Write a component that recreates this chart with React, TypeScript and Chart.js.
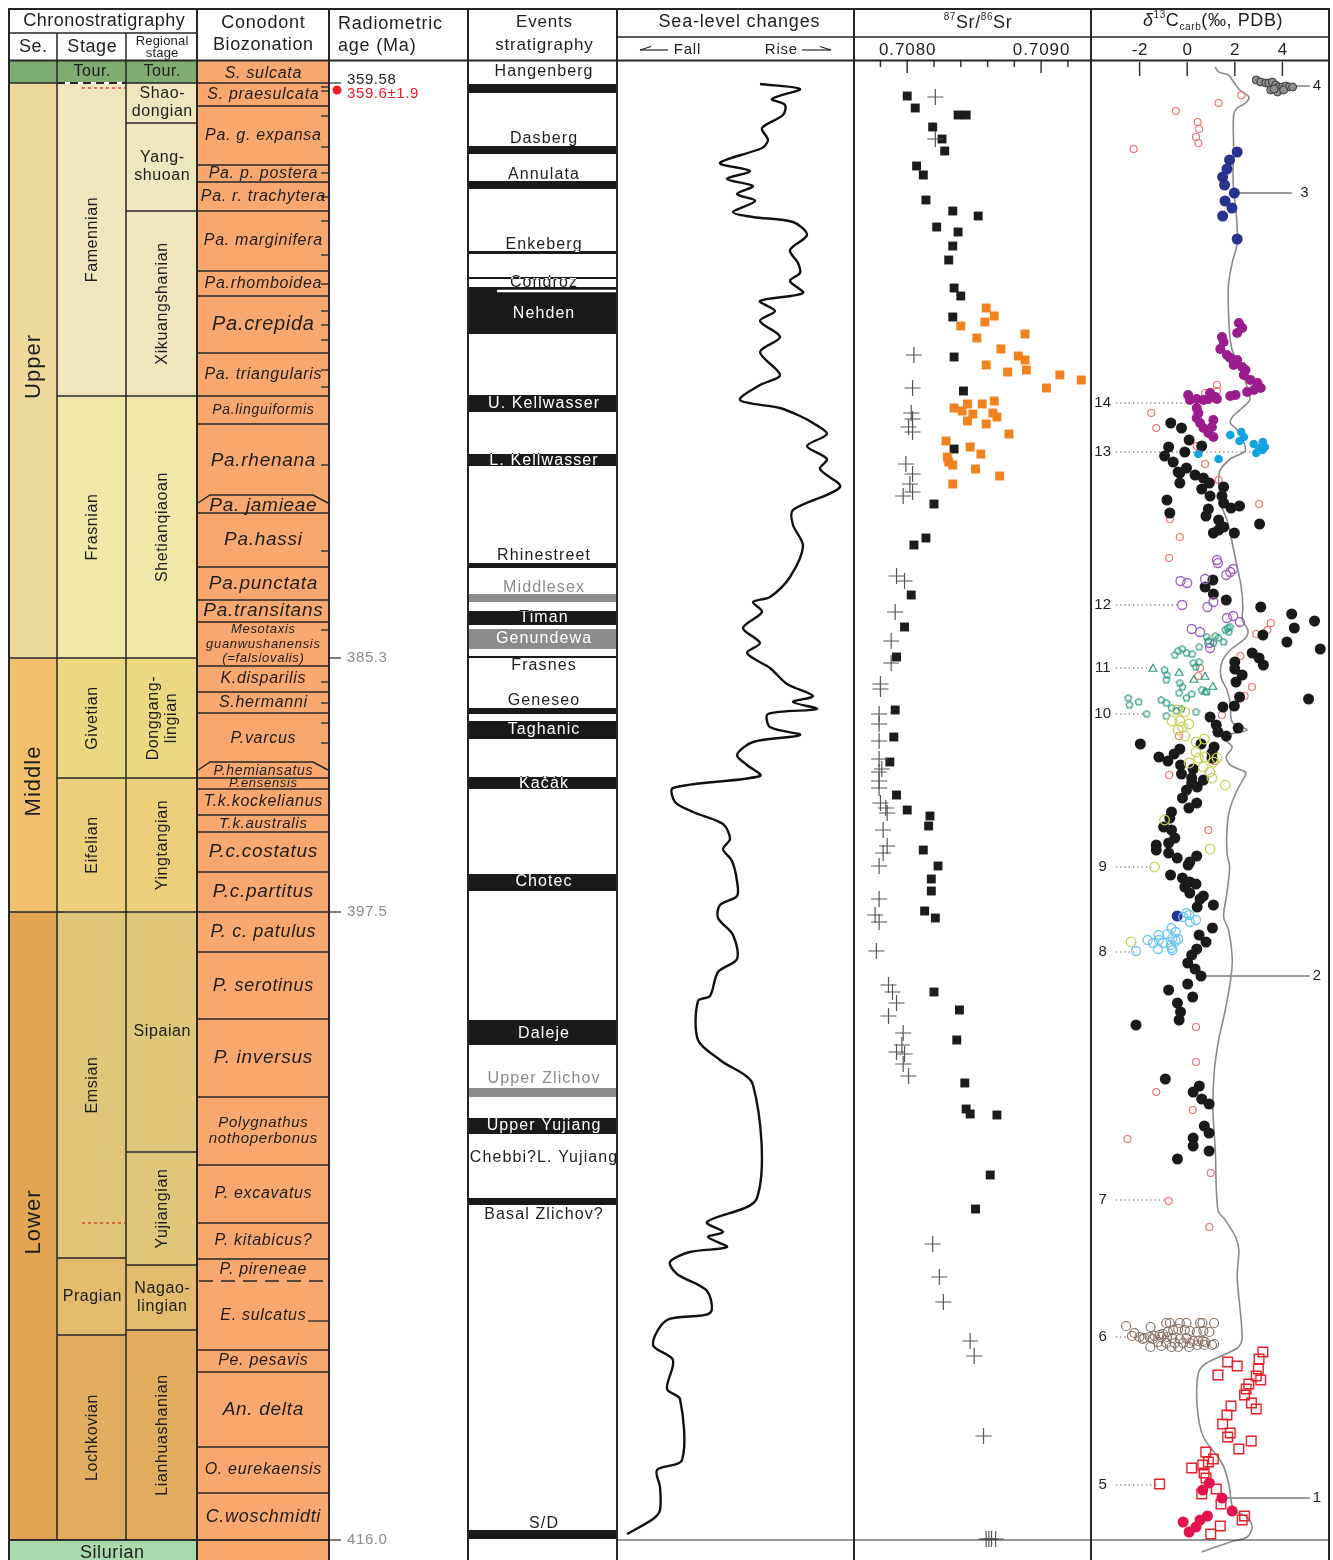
import React, { useEffect, useRef } from 'react';
import { Chart, registerables } from 'chart.js';

Chart.register(...registerables);

type Pair = [number, number];

// ====================== DATA ======================
// Vertical axis of every column: stratigraphic level (arbitrary units, increasing downwards).

// --- Chronostratigraphy ---
const seriesNames = ['', 'Upper', 'Middle', 'Lower'];
const seriesBounds = [61, 83, 658, 912, 1540];
const stageNames = ['Tour.', 'Famennian', 'Frasnian', 'Givetian', 'Eifelian', 'Emsian', 'Pragian', 'Lochkovian'];
const stageBounds = [61, 83, 396, 658, 778, 912, 1258, 1335, 1540];
const regionalNames = ['Tour.', 'Shao-\ndongian', 'Yang-\nshuoan', 'Xikuangshanian', 'Shetianqiaoan', 'Donggang-\nlingian', 'Yingtangian', 'Sipaian', 'Yujiangian', 'Nagao-\nlingian', 'Lianhuashanian'];
const regionalBounds = [61, 83, 123, 211, 396, 658, 778, 912, 1152, 1265, 1330, 1540];
const silurianName = 'Silurian';
const silurianTop = 1540;
const stageDashedLevels = [83];
const redDottedLevels = [88, 1223];

// --- Conodont biozonation ---
const zoneNames = ['S. sulcata', 'S. praesulcata', 'Pa. g. expansa', 'Pa. p. postera', 'Pa. r. trachytera', 'Pa. marginifera', 'Pa.rhomboidea', 'Pa.crepida', 'Pa. triangularis', 'Pa.linguiformis', 'Pa.rhenana', 'Pa. jamieae', 'Pa.hassi', 'Pa.punctata', 'Pa.transitans', 'Mesotaxis\nguanwushanensis\n(=falsiovalis)', 'K.disparilis', 'S.hermanni', 'P.varcus', 'P.hemiansatus', 'P.ensensis', 'T.k.kockelianus', 'T.k.australis', 'P.c.costatus', 'P.c.partitus', 'P. c. patulus', 'P. serotinus', 'P. inversus', 'Polygnathus\nnothoperbonus', 'P. excavatus', 'P. kitabicus?', 'P. pireneae', 'E. sulcatus', 'Pe. pesavis', 'An. delta', 'O. eurekaensis', 'C.woschmidti'];
const zoneBounds = [61, 83, 106, 165, 182, 211, 271, 296, 353, 396, 424, 498, 513, 567, 600, 622, 666, 692, 713, 765, 778, 789, 815, 832, 872, 912, 952, 1019, 1097, 1165, 1223, 1259, 1281, 1350, 1372, 1447, 1493, 1540];
const subzoneTickLevels = [87, 91, 116, 147, 173, 197, 221, 255, 284, 311, 325, 340, 370, 387, 465, 551, 630, 682, 703, 723, 743];
const subzoneLongTickLevels = [1321];

// --- Radiometric ages ---
const ageLabels = ['359.58', '385.3', '397.5', '416.0'];
const ageLevels = [83, 658, 912, 1540];
const datedAgeLabel = '359.6±1.9';
const datedAgeLevel = 90;

// --- Events stratigraphy ---
const eventNames = ['Hangenberg', 'Dasberg', 'Annulata', 'Enkeberg', 'Condroz', 'Nehden', 'U. Kellwasser', 'L. Kellwasser', 'Rhinestreet', 'Middlesex', 'Timan', 'Genundewa', 'Frasnes', 'Geneseo', 'Taghanic', 'Kačák', 'Chotec', 'Daleje', 'Upper Zlichov', 'Upper Yujiang', 'Chebbi?L. Yujiang', 'Basal Zlichov?', 'S/D'];
const eventLabelLevels = [72, 139, 175, 245, 283, 314, 404, 461, 556, 588, 618, 639, 666, 701, 730, 784, 882, 1034, 1079, 1126, 1158, 1215, 1524];
const eventBandTops = [84, 146, 181, 251, 277, 287, 395, 454, 563, 594, 611, 629, 656, 708, 721, 777, 874, 1020, 1088, 1118, null, 1198, 1530];
const eventBandBottoms = [93, 154, 189, 254, 279, 334, 412, 466, 568, 602, 625, 649, 658, 714, 739, 789, 891, 1045, 1097, 1134, null, 1205, 1539];
const eventMinor = [false, false, false, false, false, false, false, false, false, true, false, true, false, false, false, false, false, false, true, false, false, false, false];
const eventWhiteLines = [291];

// --- Sea-level curve: [relative sea level (arbitrary, fall -> rise), level] ---
const seaLevelCurve: Pair[] = [[142,84],[182,89],[154,99],[167,105],[165,115],[144,128],[150,140],[144,148],[102,163],[132,171],[109,179],[135,186],[119,194],[137,201],[115,212],[135,217],[175,222],[189,235],[172,250],[180,263],[182,273],[172,281],[185,293],[142,301],[157,311],[142,321],[162,337],[142,352],[162,375],[142,385],[122,400],[162,408],[182,416],[195,423],[209,434],[189,446],[209,459],[202,469],[222,487],[175,510],[175,525],[185,546],[172,577],[152,597],[135,602],[144,612],[125,628],[142,643],[129,653],[152,668],[169,684],[195,696],[175,702],[199,709],[150,714],[152,727],[182,735],[135,742],[119,755],[129,765],[142,776],[55,788],[57,802],[75,812],[105,824],[112,839],[105,849],[114,861],[119,881],[119,896],[102,905],[100,918],[115,935],[119,959],[100,972],[92,996],[80,1001],[80,1040],[102,1060],[135,1085],[139,1198],[89,1222],[105,1232],[90,1237],[109,1247],[72,1252],[52,1262],[59,1274],[89,1291],[92,1313],[49,1320],[35,1345],[55,1360],[49,1389],[62,1399],[64,1460],[39,1470],[42,1487],[42,1510],[35,1519],[9,1534]];

// --- 87Sr/86Sr: [ratio, level] ---
const srTickValues = [0.7078, 0.708, 0.7082, 0.7084, 0.7086, 0.7088, 0.709, 0.7092];
const srTickLabels = ['0.7080', '0.7090'];
const srLabelValues = [0.708, 0.709];
const srBlack: Pair[] = [[0.70800,96],[0.70806,108],[0.70838,115],[0.70844,115],[0.70819,127],[0.70826,139],[0.70828,151],[0.70807,166],[0.70812,175],[0.70814,200],[0.70834,211],[0.70853,216],[0.70822,227],[0.70838,232],[0.70834,246],[0.70831,260],[0.70835,288],[0.70840,296],[0.70834,317],[0.70835,357],[0.70842,391],[0.70835,449],[0.70820,504],[0.70814,538],[0.70805,545],[0.70803,595],[0.70798,627],[0.70792,657],[0.70791,710],[0.70790,737],[0.70787,762],[0.70792,795],[0.70800,810],[0.70817,816],[0.70816,826],[0.70812,850],[0.70823,866],[0.70818,879],[0.70818,891],[0.70813,911],[0.70821,918],[0.70820,992],[0.70839,1010],[0.70837,1040],[0.70843,1083],[0.70844,1109],[0.70847,1114],[0.70867,1115],[0.70862,1175],[0.70851,1209]];
const srOrange: Pair[] = [[0.70859,308],[0.70865,316],[0.70858,322],[0.70840,326],[0.70852,338],[0.70888,334],[0.70870,349],[0.70883,356],[0.70888,360],[0.70859,365],[0.70875,372],[0.70889,370],[0.70914,375],[0.70930,380],[0.70904,388],[0.70835,408],[0.70845,404],[0.70841,411],[0.70849,414],[0.70856,404],[0.70865,401],[0.70864,413],[0.70867,417],[0.70845,421],[0.70859,424],[0.70876,434],[0.70829,441],[0.70847,447],[0.70855,454],[0.70830,457],[0.70831,462],[0.70834,465],[0.70851,469],[0.70869,476],[0.70834,484]];
const srCross: Pair[] = [[0.70821,97],[0.70821,139],[0.70805,355],[0.70804,388],[0.70803,413],[0.70804,419],[0.70801,427],[0.70804,432],[0.70799,464],[0.70804,474],[0.70802,484],[0.70804,492],[0.70797,496],[0.70792,576],[0.70798,581],[0.70791,612],[0.70788,641],[0.70788,663],[0.70780,684],[0.70780,689],[0.70779,714],[0.70779,724],[0.70779,741],[0.70779,759],[0.70781,769],[0.70779,772],[0.70779,781],[0.70779,788],[0.70780,803],[0.70784,808],[0.70785,813],[0.70782,830],[0.70785,846],[0.70782,853],[0.70779,866],[0.70779,899],[0.70776,915],[0.70779,922],[0.70777,951],[0.70786,985],[0.70789,992],[0.70792,1003],[0.70786,1016],[0.70797,1033],[0.70796,1045],[0.70792,1052],[0.70798,1054],[0.70797,1064],[0.70801,1076],[0.70819,1244],[0.70824,1277],[0.70827,1302],[0.70847,1341],[0.70850,1356],[0.70857,1436],[0.70859,1539],[0.70861,1539],[0.70863,1539],[0.70866,1539]];

// --- δ13Ccarb (‰ PDB): [value, level] ---
const c13TickValues = [-2, 0, 2, 4];
const c13Grey: Pair[] = [[2.90,80],[3.09,82],[3.30,83],[3.43,83],[3.58,82],[3.72,85],[3.85,87],[4.01,87],[4.15,86],[4.29,87],[4.43,87],[3.80,92],[3.51,90],[3.65,89],[4.05,90]];
const c13PinkOpen: Pair[] = [[2.28,95],[1.32,103],[-0.48,111],[0.44,122],[0.50,129],[0.37,137],[0.47,143],[-2.25,149],[1.25,385],[1.25,391],[0.75,393],[-1.51,413],[-1.30,428],[0.40,446],[0.75,464],[1.32,480],[3.02,504],[-0.73,519],[-0.31,537],[-0.76,558],[2.90,634],[3.37,630],[3.51,623],[2.24,656],[0.54,668],[0.47,676],[2.72,687],[2.41,696],[1.46,715],[-0.35,736],[-0.76,775],[1.15,761],[0.89,830],[0.37,1027],[0.37,1062],[-1.30,1092],[0.23,1110],[-2.51,1139],[0.99,1173],[-0.78,1201],[0.93,1227]];
const c13Navy: Pair[] = [[2.10,152],[1.78,160],[1.67,169],[1.49,177],[1.57,185],[1.98,193],[1.59,201],[1.88,208],[1.49,216],[2.10,239],[-0.42,916]];
const c13Purple: Pair[] = [[2.17,323],[2.31,328],[2.10,333],[1.46,337],[1.53,342],[1.39,349],[1.67,355],[1.81,358],[2.10,360],[1.95,365],[2.31,367],[2.45,370],[2.38,375],[2.66,380],[2.95,383],[3.09,388],[2.80,390],[2.52,392],[2.03,395],[1.81,396],[0.96,393],[1.18,397],[1.25,399],[0.04,395],[0.11,400],[0.40,399],[0.68,400],[0.89,399],[0.40,408],[0.47,413],[0.40,418],[0.54,423],[0.68,428],[1.10,420],[1.04,427],[0.89,433],[1.10,437]];
const c13Black: Pair[] = [[-0.69,423],[-0.24,428],[0.08,440],[-0.78,447],[0.61,446],[-0.10,452],[-0.95,456],[-0.59,462],[-0.38,472],[-0.03,468],[0.33,475],[0.68,478],[-0.31,473],[-0.31,483],[0.93,483],[0.61,489],[1.53,487],[0.96,496],[1.46,496],[-0.85,500],[1.53,503],[1.84,508],[2.20,506],[0.89,509],[-0.73,513],[0.79,516],[1.32,520],[3.04,524],[1.53,527],[1.32,530],[1.10,533],[1.98,533],[1.08,580],[0.75,587],[1.10,594],[1.64,600],[3.09,607],[4.39,614],[5.35,621],[4.50,628],[3.18,635],[4.19,642],[5.59,649],[2.73,653],[3.02,658],[3.20,665],[2.00,662],[2.00,669],[2.31,675],[2.05,682],[2.20,697],[1.98,706],[1.50,707],[5.10,699],[0.96,717],[1.22,725],[2.14,728],[1.29,732],[1.64,736],[-1.97,744],[0.58,744],[1.13,747],[-0.31,749],[1.04,753],[-0.55,754],[-1.19,757],[-0.81,761],[1.04,758],[-0.28,765],[0.25,769],[-0.24,774],[0.19,778],[0.68,780],[0.19,783],[0.42,787],[-0.03,790],[-0.20,798],[0.40,803],[0.07,808],[-0.66,812],[-0.73,818],[-0.99,827],[-0.66,830],[-0.52,838],[-0.78,843],[-1.30,845],[-1.30,850],[-0.78,853],[-0.42,858],[0.40,856],[0.11,862],[0.04,865],[-0.70,875],[-0.20,878],[0.11,882],[0.37,884],[-0.10,887],[0.11,893],[0.68,896],[0.54,899],[1.10,905],[0.42,907],[1.06,928],[0.50,935],[0.79,942],[0.40,949],[0.19,955],[0.02,963],[0.33,969],[0.58,976],[0.02,984],[-0.78,990],[0.23,997],[-0.41,1003],[-0.28,1012],[-0.34,1020],[-2.15,1025],[-0.92,1079],[0.51,1086],[0.25,1092],[0.61,1099],[0.92,1104],[0.72,1126],[0.92,1133],[0.25,1138],[0.25,1146],[0.92,1151],[-0.41,1159]];
const c13Cyan: Pair[] = [[1.81,435],[2.27,432],[2.38,437],[2.20,441],[2.80,444],[3.18,442],[3.26,447],[3.02,448],[2.90,453],[3.16,450],[0.47,454],[1.32,459]];
const c13Violet: Pair[] = [[1.25,560],[1.29,563],[-0.28,581],[0.00,583],[0.75,579],[1.64,575],[1.81,572],[1.93,569],[-0.21,605],[0.85,607],[1.10,602],[1.67,618],[1.93,616],[2.21,622],[0.19,629],[0.54,632],[0.93,643],[0.96,648]];
const c13TealPent: Pair[] = [[1.60,630],[1.70,628],[1.80,627],[1.75,632],[0.82,637],[1.18,636],[1.32,638],[1.53,642],[0.89,641],[1.10,643],[-0.52,655],[-0.38,651],[-0.21,649],[-0.03,653],[0.21,654],[0.50,647],[-0.95,670],[-0.85,675],[-0.88,680],[0.25,663],[0.50,662],[0.36,667],[-0.31,683],[-0.20,687],[0.61,690],[0.82,692],[-0.34,693],[-0.03,698],[0.19,694],[-1.09,700],[-0.88,703],[-0.66,708],[-0.45,711],[-2.48,698],[-2.43,705],[-2.04,702],[-1.70,714],[-0.88,716],[0.37,712],[-0.24,709]];
const c13TealTri: Pair[] = [[-1.44,669],[-0.34,673],[0.28,680],[0.75,677],[1.08,687],[0.75,692]];
const c13YellowGreen: Pair[] = [[-0.42,710],[-0.10,712],[-0.64,721],[-0.31,721],[0.07,724],[-0.38,730],[-0.10,736],[-0.20,727],[0.37,742],[0.72,739],[0.37,752],[0.75,757],[0.47,758],[1.25,758],[1.10,762],[0.08,763],[0.68,767],[0.96,772],[1.04,778],[1.60,785],[-0.95,820],[0.96,849],[-1.37,867],[-2.36,942]];
const c13LightBlue: Pair[] = [[-0.03,913],[0.08,915],[-0.17,917],[0.11,922],[0.37,920],[-0.66,928],[-0.48,932],[-0.83,934],[-1.20,935],[-0.38,939],[-0.62,938],[-1.19,940],[-1.66,940],[-1.44,943],[-1.02,943],[-0.69,945],[-0.48,941],[-0.66,948],[-1.23,949],[-0.62,950],[-2.15,951]];
const c13Brown: Pair[] = [[-2.57,1326],[-1.54,1327],[-0.88,1323],[-0.73,1323],[-0.31,1323],[-0.03,1323],[0.54,1323],[0.64,1323],[1.13,1323],[-2.22,1333],[-2.32,1336],[-2.01,1337],[-1.80,1338],[-1.58,1337],[-1.37,1336],[-1.16,1335],[-1.02,1334],[-0.81,1332],[-0.59,1330],[-0.38,1329],[-0.10,1330],[0.11,1331],[0.40,1332],[0.68,1331],[0.93,1332],[-1.87,1339],[-1.44,1339],[-1.09,1337],[-0.85,1337],[-0.62,1338],[-0.31,1339],[-0.03,1338],[0.25,1341],[0.47,1341],[0.75,1342],[-1.55,1347],[-1.09,1346],[-0.66,1347],[-0.38,1347],[0.08,1347],[0.42,1345],[0.71,1345],[1.13,1344],[1.04,1345],[0.65,1341],[-1.23,1342],[-0.88,1343],[-0.52,1343],[-0.17,1343],[0.11,1343]];
const c13RedSquare: Pair[] = [[3.18,1352],[3.02,1359],[1.70,1362],[2.10,1366],[2.99,1369],[1.29,1375],[2.90,1376],[3.09,1380],[2.59,1384],[2.48,1389],[2.41,1395],[2.70,1403],[2.90,1409],[1.84,1406],[1.67,1415],[1.49,1424],[1.81,1433],[1.70,1437],[2.69,1441],[2.17,1449],[0.78,1452],[1.10,1459],[0.89,1462],[0.65,1465],[0.19,1468],[0.71,1473],[0.79,1478],[-1.16,1484],[1.22,1489],[0.61,1494],[1.42,1504],[2.41,1516],[2.31,1520],[1.39,1526],[0.99,1534]];
const c13Crimson: Pair[] = [[0.93,1483],[0.65,1490],[1.46,1498],[1.89,1511],[0.85,1516],[0.54,1520],[-0.17,1522],[0.37,1527],[0.08,1532]];
const c13Curve: Pair[] = [[1.18,67],[1.32,72],[1.74,75],[1.95,82],[2.21,90],[2.59,97],[2.45,103],[2.10,108],[1.95,115],[1.95,150],[1.93,183],[2.07,217],[2.10,243],[1.89,263],[1.74,283],[1.72,300],[1.78,333],[1.89,350],[2.10,362],[2.38,377],[2.59,393],[2.63,400],[2.31,408],[1.93,416],[1.81,423],[2.10,430],[2.45,450],[1.81,459],[1.39,470],[1.32,480],[1.36,490],[1.46,507],[1.67,520],[1.84,537],[2.10,567],[2.27,587],[2.34,608],[2.31,620],[2.55,630],[2.45,638],[1.81,650],[1.46,662],[1.42,677],[1.67,690],[1.81,703],[1.89,722],[2.52,730],[1.67,735],[1.60,740],[1.89,747],[1.64,757],[1.81,765],[2.45,772],[2.45,775],[2.10,790],[1.78,810],[1.67,830],[1.67,853],[1.78,867],[1.67,893],[1.53,917],[1.74,930],[1.89,957],[1.84,977],[1.60,1010],[1.32,1040],[1.13,1073],[1.08,1110],[1.18,1150],[1.29,1210],[1.60,1220],[2.03,1237],[2.17,1250],[2.10,1277],[2.31,1338],[2.10,1348],[0.82,1363],[0.47,1373],[0.42,1407],[0.68,1437],[1.46,1463],[1.74,1483],[1.95,1510],[2.52,1517],[2.73,1527],[2.52,1537],[1.81,1542],[0.61,1552]];

// δ13C sample-level markers
const c13LeftLabels = ['14', '13', '12', '11', '10', '9', '8', '7', '6', '5'];
const c13LeftLevels = [403, 452, 605, 668, 714, 867, 952, 1200, 1337, 1485];
const c13LeftEnds = [-0.10, 2.80, -0.31, -1.50, -1.80, -1.50, -2.22, -0.95, -2.52, -1.28];
const c13RightLabels = ['4', '3', '2', '1'];
const c13RightLevels = [86, 193, 976, 1498];
const c13RightStarts = [4.50, 2.07, 0.58, 1.46];
const c13RightEnds = [5.15, 4.40, 5.15, 5.15];
const c13RightLabelAt = [5.45, 4.93, 5.45, 5.45];

// ====================== STYLE / LAYOUT ======================
const FONT = '"Liberation Sans", Arial, Helvetica, sans-serif';
const CANVAS_H = 1552;
const PAGE = 8;
const LINE = '#262626';
const seriesColors = ['#7eac71', '#eed99c', '#f1c06c', '#e1a553'];
const stageColors = ['#7eac71', '#efe6be', '#efe8a8', '#ecd880', '#ecce7b', '#e0c678', '#e2bb6d', '#e1ae60'];
const regionalColors = ['#7eac71', '#efe6be', '#efe6be', '#efe6be', '#efe8a8', '#ecd880', '#ecce7b', '#e0c678', '#e0c678', '#e2bb6d', '#e1ae60'];
const CONODONT_FILL = '#f8a86e';
const SILURIAN_FILL = '#a9dbae';
const zoneFontPx = [16,16,16,16,16,16,16,20,16,14,19,19,19,19,19,13,16,16,16,14,13,16,15,19,19,18,18,19,15,16,16,16,16,16,19,16,18];
const trapezoidZones = new Set(['Pa. jamieae', 'P.hemiansatus']);
const dashedTopZones = new Set(['E. sulcatus']);
const stageHorizontal = new Set(['Tour.', 'Pragian']);
const regionalHorizontal = new Set(['Tour.', 'Shao-\ndongian', 'Yang-\nshuoan', 'Sipaian', 'Nagao-\nlingian']);

type TxtOpt = { size?: number; color?: string; align?: CanvasTextAlign; italic?: boolean; rotate?: boolean; spacing?: number; lh?: number };
function txt(ctx: CanvasRenderingContext2D, s: string, x: number, y: number, o: TxtOpt = {}) {
  const size = o.size ?? 16;
  const lines = s.split('\n');
  const lh = o.lh ?? size * 1.1;
  ctx.save();
  ctx.font = `${o.italic ? 'italic ' : ''}${size}px ${FONT}`;
  ctx.fillStyle = o.color ?? '#1e1e1e';
  ctx.textAlign = o.align ?? 'center';
  ctx.textBaseline = 'middle';
  (ctx as any).letterSpacing = `${o.spacing ?? 0}px`;
  ctx.translate(x + (o.align === 'left' || o.align === 'right' ? 0 : (o.spacing ?? 0) / 2), y);
  if (o.rotate) ctx.rotate(-Math.PI / 2);
  lines.forEach((ln, i) => ctx.fillText(ln, 0, (i - (lines.length - 1) / 2) * lh));
  ctx.restore();
}
function line(ctx: CanvasRenderingContext2D, x1: number, y1: number, x2: number, y2: number, w = 1.5, color = LINE, dash: number[] = []) {
  ctx.save();
  ctx.strokeStyle = color;
  ctx.lineWidth = w;
  ctx.setLineDash(dash);
  ctx.beginPath();
  ctx.moveTo(x1, y1);
  ctx.lineTo(x2, y2);
  ctx.stroke();
  ctx.restore();
}
type Part = { t: string; s?: 'sup' | 'sub'; italic?: boolean };
function rich(ctx: CanvasRenderingContext2D, parts: Part[], cx: number, cy: number, size: number) {
  ctx.save();
  ctx.textBaseline = 'middle';
  ctx.textAlign = 'left';
  ctx.fillStyle = '#1e1e1e';
  (ctx as any).letterSpacing = '0.6px';
  const fontFor = (p: Part) => `${p.italic ? 'italic ' : ''}${p.s ? Math.round(size * 0.58) : size}px ${FONT}`;
  const widths = parts.map((p) => { ctx.font = fontFor(p); return ctx.measureText(p.t).width; });
  let x = cx - widths.reduce((a, b) => a + b, 0) / 2;
  parts.forEach((p, i) => {
    ctx.font = fontFor(p);
    const dy = p.s === 'sup' ? -size * 0.33 : p.s === 'sub' ? size * 0.33 : 0;
    ctx.fillText(p.t, x, cy + dy);
    x += widths[i];
  });
  ctx.restore();
}

const pts = (a: Pair[]) => a.map(([x, y]) => ({ x, y }));

function baseOptions(xmin: number, xmax: number): any {
  return {
    animation: false,
    responsive: false,
    maintainAspectRatio: false,
    events: [],
    layout: { autoPadding: false, padding: { top: 52, bottom: 0, left: 0, right: 0 } },
    plugins: { legend: { display: false }, tooltip: { enabled: false } },
    scales: {
      x: { type: 'linear', display: false, min: xmin, max: xmax },
      y: { type: 'linear', display: false, min: 60, max: 1560, reverse: true },
    },
  };
}

// ---------- left block: chronostratigraphy, conodonts, ages, events ----------
function drawStrat(chart: any) {
  const ctx: CanvasRenderingContext2D = chart.ctx;
  const ys = chart.scales.y;
  const Y = (v: number) => ys.getPixelForValue(v);
  const X = (p: number) => p - 8;
  const P = (p: number) => p - PAGE;

  const fillCol = (bounds: number[], colors: string[], x1: number, x2: number) => {
    bounds.slice(0, -1).forEach((b, i) => {
      ctx.fillStyle = colors[i];
      ctx.fillRect(X(x1), Y(b), X(x2) - X(x1), Y(bounds[i + 1]) - Y(b));
    });
  };
  fillCol(seriesBounds, seriesColors, 9, 57);
  fillCol(stageBounds, stageColors, 57, 126);
  fillCol(regionalBounds, regionalColors, 126, 197);
  ctx.fillStyle = CONODONT_FILL;
  ctx.fillRect(X(197), Y(60), X(329) - X(197), Y(1560) - Y(60));
  ctx.fillStyle = SILURIAN_FILL;
  ctx.fillRect(X(9), Y(silurianTop), X(197) - X(9), Y(1560) - Y(silurianTop));

  // chronostratigraphic boundaries
  seriesBounds.slice(1).forEach((b) => line(ctx, X(9), Y(b), X(57), Y(b)));
  stageBounds.slice(1).forEach((b) => {
    if (stageDashedLevels.includes(b)) {
      line(ctx, X(57), Y(b), X(126), Y(b), 2, '#fff');
      line(ctx, X(57), Y(b), X(126), Y(b), 2, LINE, [8, 5]);
    } else line(ctx, X(57), Y(b), X(126), Y(b));
  });
  regionalBounds.slice(1).forEach((b) => line(ctx, X(126), Y(b), X(197), Y(b)));
  redDottedLevels.forEach((l) => line(ctx, X(82), Y(l), X(125), Y(l), 1.3, '#e8312f', [3, 3]));

  // conodont zone boundaries
  zoneBounds.slice(1).forEach((b, k) => {
    const name = zoneNames[k + 1];
    if (name && trapezoidZones.has(name)) {
      ctx.save();
      ctx.strokeStyle = LINE; ctx.lineWidth = 1.5;
      ctx.beginPath();
      ctx.moveTo(X(198), Y(b + 5));
      ctx.lineTo(X(210), Y(b - 3));
      ctx.lineTo(X(313), Y(b - 3));
      ctx.lineTo(X(328), Y(b + 5));
      ctx.stroke();
      ctx.restore();
    } else if (name && dashedTopZones.has(name)) {
      line(ctx, X(199), Y(b), X(329), Y(b), 1.5, LINE, [14, 8]);
    } else line(ctx, X(197), Y(b), X(329), Y(b));
  });
  subzoneTickLevels.forEach((l) => line(ctx, X(321), Y(l), X(329), Y(l), 1.3));
  subzoneLongTickLevels.forEach((l) => line(ctx, X(308), Y(l), X(329), Y(l), 1.3));

  // texts
  seriesNames.forEach((n, i) => {
    if (!n) return;
    txt(ctx, n, X(33), (Y(seriesBounds[i]) + Y(seriesBounds[i + 1])) / 2 - 4, { size: 22, rotate: true, spacing: 1 });
  });
  stageNames.forEach((n, i) => {
    const cy = (Y(stageBounds[i]) + Y(stageBounds[i + 1])) / 2;
    txt(ctx, n, X(92), cy, { size: 16, rotate: !stageHorizontal.has(n), spacing: 0.6 });
  });
  regionalNames.forEach((n, i) => {
    const cy = (Y(regionalBounds[i]) + Y(regionalBounds[i + 1])) / 2;
    txt(ctx, n, X(162), cy, { size: 16, rotate: !regionalHorizontal.has(n), spacing: 0.6, lh: 18 });
  });
  txt(ctx, silurianName, X(112), Y(1553), { size: 18, spacing: 0.6 });
  zoneNames.forEach((n, i) => {
    const cy = (Y(zoneBounds[i]) + Y(zoneBounds[i + 1])) / 2;
    const size = zoneFontPx[i];
    txt(ctx, n, X(263), cy + (i === 0 ? 2 : 0), { size, italic: true, spacing: 0.7, lh: size + 1.5 });
  });

  // radiometric ages
  ageLevels.forEach((l, i) => {
    line(ctx, X(329), Y(l), X(341), Y(l), 1.3, '#333');
    txt(ctx, ageLabels[i], X(347), Y(l) + (i === 0 ? -3 : 0), { size: 15, align: 'left', spacing: 0.6, color: i === 0 ? '#1e1e1e' : '#8a8a8a' });
  });
  ctx.fillStyle = '#e8202a';
  ctx.beginPath();
  ctx.arc(X(337), Y(datedAgeLevel), 4.5, 0, Math.PI * 2);
  ctx.fill();
  txt(ctx, datedAgeLabel, X(347), Y(datedAgeLevel + 4), { size: 15, align: 'left', spacing: 0.6, color: '#e8202a' });

  // events
  const EL = 469, ER = 617, EC = 543.5;
  eventNames.forEach((n, i) => {
    txt(ctx, n, X(EC), Y(eventLabelLevels[i]), { size: 16, spacing: 1.1, color: eventMinor[i] ? '#8a8a8a' : '#1e1e1e' });
  });
  eventNames.forEach((n, i) => {
    const t = eventBandTops[i];
    const b = eventBandBottoms[i];
    if (t == null || b == null) return;
    const y1 = Y(t), y2 = Y(b);
    ctx.fillStyle = eventMinor[i] ? '#8c8c8c' : '#1a1a1a';
    ctx.fillRect(X(EL), y1, X(ER) - X(EL), y2 - y1);
    ctx.save();
    ctx.beginPath();
    ctx.rect(X(EL), y1, X(ER) - X(EL), y2 - y1);
    ctx.clip();
    txt(ctx, n, X(EC), Y(eventLabelLevels[i]), { size: 16, spacing: 1.1, color: '#ffffff' });
    ctx.restore();
  });
  eventWhiteLines.forEach((l) => line(ctx, X(497), Y(l), X(ER), Y(l), 2.5, '#ffffff'));

  // header
  txt(ctx, 'Chronostratigraphy', X(104), P(21), { size: 18, spacing: 0.5 });
  txt(ctx, 'Se.', X(33), P(47), { size: 18, spacing: 0.6 });
  txt(ctx, 'Stage', X(92), P(47), { size: 18, spacing: 0.6 });
  txt(ctx, 'Regional', X(162), P(41), { size: 13, spacing: 0.2 });
  txt(ctx, 'stage', X(162), P(53), { size: 13, spacing: 0.2 });
  txt(ctx, 'Conodont', X(263), P(23), { size: 18, spacing: 0.8 });
  txt(ctx, 'Biozonation', X(263), P(45), { size: 18, spacing: 0.6 });
  txt(ctx, 'Radiometric', X(338), P(24), { size: 18, spacing: 0.8, align: 'left' });
  txt(ctx, 'age (Ma)', X(338), P(46), { size: 18, spacing: 0.8, align: 'left' });
  txt(ctx, 'Events', X(544), P(22), { size: 17, spacing: 0.8 });
  txt(ctx, 'stratigraphy', X(544), P(45), { size: 17, spacing: 0.8 });

  // frame
  line(ctx, X(8), P(9), X(618), P(9), 2);
  line(ctx, X(9), P(33), X(197), P(33), 1.5);
  line(ctx, X(8), P(60.5), X(618), P(60.5), 2);
  line(ctx, X(9), Y(1540), X(329), Y(1540), 1.5);
  line(ctx, X(9), 0, X(9), CANVAS_H, 2);
  line(ctx, X(57), P(33), X(57), Y(1540), 1.5);
  line(ctx, X(126), P(33), X(126), Y(1540), 1.5);
  line(ctx, X(197), 0, X(197), CANVAS_H, 2);
  line(ctx, X(329), 0, X(329), CANVAS_H, 2);
  line(ctx, X(468), 0, X(468), CANVAS_H, 2);
  line(ctx, X(617), 0, X(617), CANVAS_H, 2);
}

function panelFrame(ctx: CanvasRenderingContext2D, chart: any, w: number) {
  const Y = (v: number) => chart.scales.y.getPixelForValue(v);
  line(ctx, 0, 1, w, 1, 2);
  line(ctx, 0, 52.5, w, 52.5, 2);
  line(ctx, 0, 29, w, 29, 1.5);
  line(ctx, 0, Y(1540), w, Y(1540), 1.2, '#333');
  line(ctx, w - 1, 0, w - 1, CANVAS_H, 2);
}

function stratConfig() {
  return { type: 'scatter', data: { datasets: [] }, options: baseOptions(0, 1), plugins: [{ id: 'strat', afterDraw: drawStrat }] };
}

function seaConfig() {
  const W = 237;
  return {
    type: 'scatter',
    data: { datasets: [{ data: pts(seaLevelCurve), showLine: true, tension: 0.3, pointRadius: 0, borderColor: '#111', borderWidth: 2.4 }] },
    options: baseOptions(0, 237),
    plugins: [{
      id: 'seaHeader',
      afterDraw(chart: any) {
        const ctx: CanvasRenderingContext2D = chart.ctx;
        const X = (p: number) => p - 618;
        const P = (p: number) => p - PAGE;
        txt(ctx, 'Sea-level changes', X(739), P(22), { size: 18, spacing: 0.8 });
        txt(ctx, 'Fall', X(687), P(50), { size: 15, spacing: 0.8 });
        txt(ctx, 'Rise', X(781), P(50), { size: 15, spacing: 0.8 });
        line(ctx, X(640), P(50), X(668), P(50), 1.2, '#222');
        line(ctx, X(640), P(50), X(651), P(46.5), 1.2, '#222');
        line(ctx, X(802), P(50), X(831), P(50), 1.2, '#222');
        line(ctx, X(831), P(50), X(820), P(46.5), 1.2, '#222');
        panelFrame(ctx, chart, W);
      },
    }],
  };
}

function srConfig() {
  const W = 237;
  return {
    type: 'scatter',
    data: {
      datasets: [
        { data: pts(srCross), pointStyle: 'cross', pointRadius: 8, borderColor: '#555', borderWidth: 1.2 },
        { data: pts(srOrange), pointStyle: 'rect', pointRadius: 6.3, backgroundColor: '#f0821e', borderWidth: 0 },
        { data: pts(srBlack), pointStyle: 'rect', pointRadius: 6.3, backgroundColor: '#1c1c1c', borderWidth: 0 },
      ],
    },
    options: baseOptions(0.70761, 0.70938),
    plugins: [{
      id: 'srHeader',
      afterDraw(chart: any) {
        const ctx: CanvasRenderingContext2D = chart.ctx;
        const xs = chart.scales.x;
        const X = (p: number) => p - 855;
        const P = (p: number) => p - PAGE;
        rich(ctx, [{ t: '87', s: 'sup' }, { t: 'Sr/' }, { t: '86', s: 'sup' }, { t: 'Sr' }], X(978), P(23), 18);
        srLabelValues.forEach((v, i) => txt(ctx, srTickLabels[i], xs.getPixelForValue(v), P(50), { size: 17, spacing: 0.9 }));
        srTickValues.forEach((v) => {
          const x = xs.getPixelForValue(v);
          const major = srLabelValues.some((m) => Math.abs(m - v) < 1e-7);
          line(ctx, x, P(61), x, P(61) + (major ? 12 : 6), 1.5, '#333');
        });
        panelFrame(ctx, chart, W);
      },
    }],
  };
}

function pentagonImage(color: string) {
  const size = 9;
  const c = document.createElement('canvas');
  c.width = size; c.height = size;
  const g = c.getContext('2d')!;
  g.strokeStyle = color; g.lineWidth = 1.2;
  g.beginPath();
  for (let i = 0; i < 5; i++) {
    const a = -Math.PI / 2 + (i * 2 * Math.PI) / 5;
    const r = size / 2 - 1;
    const px = size / 2 + r * Math.cos(a), py = size / 2 + r * Math.sin(a);
    if (i === 0) g.moveTo(px, py); else g.lineTo(px, py);
  }
  g.closePath(); g.stroke();
  return c;
}

function c13Config() {
  const W = 238;
  const open = 'rgba(255,255,255,0)';
  const teal = '#2e9a82';
  return {
    type: 'scatter',
    data: {
      datasets: [
        { data: pts(c13Crimson), pointRadius: 5.5, backgroundColor: '#e5114b', borderWidth: 0 },
        { data: pts(c13RedSquare), pointStyle: 'rect', pointRadius: 6.8, backgroundColor: open, borderColor: '#e8202a', borderWidth: 1.4 },
        { data: pts(c13Brown), pointRadius: 4.5, backgroundColor: open, borderColor: '#8a7061', borderWidth: 1.2 },
        { data: pts(c13LightBlue), pointRadius: 4.5, backgroundColor: open, borderColor: '#6cc6f0', borderWidth: 1.3 },
        { data: pts(c13YellowGreen), pointRadius: 4.8, backgroundColor: open, borderColor: '#c8d25a', borderWidth: 1.3 },
        { data: pts(c13TealPent), pointStyle: pentagonImage(teal), pointRadius: 4 },
        { data: pts(c13TealTri), pointStyle: 'triangle', pointRadius: 4.5, backgroundColor: open, borderColor: teal, borderWidth: 1.2 },
        { data: pts(c13Violet), pointRadius: 4.5, backgroundColor: open, borderColor: '#9a62c0', borderWidth: 1.3 },
        { data: pts(c13Cyan), pointRadius: 4.3, backgroundColor: '#13a3e3', borderWidth: 0 },
        { data: pts(c13Black), pointRadius: 5.5, backgroundColor: '#1a1a1a', borderWidth: 0 },
        { data: pts(c13Purple), pointRadius: 5, backgroundColor: '#9b1c8c', borderWidth: 0 },
        { data: pts(c13Navy), pointRadius: 5.5, backgroundColor: '#27338f', borderWidth: 0 },
        { data: pts(c13PinkOpen), pointRadius: 3.5, backgroundColor: open, borderColor: '#f07070', borderWidth: 1.2 },
        { data: pts(c13Grey), pointRadius: 4, backgroundColor: '#8e8e8e', borderColor: '#3a3a3a', borderWidth: 1 },
        { data: pts(c13Curve), showLine: true, tension: 0.3, pointRadius: 0, borderColor: '#8a8a8a', borderWidth: 1.6 },
      ],
    },
    options: baseOptions(-4, 6),
    plugins: [{
      id: 'c13Annot',
      beforeDatasetsDraw(chart: any) {
        const ctx: CanvasRenderingContext2D = chart.ctx;
        const xs = chart.scales.x, ys = chart.scales.y;
        c13LeftLabels.forEach((s, i) => {
          const y = ys.getPixelForValue(c13LeftLevels[i]);
          line(ctx, xs.getPixelForValue(-3.0), y, xs.getPixelForValue(c13LeftEnds[i]), y, 1.2, '#555', [1.3, 3]);
        });
        c13RightLabels.forEach((s, i) => {
          const y = ys.getPixelForValue(c13RightLevels[i]);
          line(ctx, xs.getPixelForValue(c13RightStarts[i]), y, xs.getPixelForValue(c13RightEnds[i]), y, 1.4, '#777');
        });
      },
      afterDraw(chart: any) {
        const ctx: CanvasRenderingContext2D = chart.ctx;
        const xs = chart.scales.x, ys = chart.scales.y;
        const X = (p: number) => p - 1092;
        const P = (p: number) => p - PAGE;
        c13LeftLabels.forEach((s, i) => txt(ctx, s, xs.getPixelForValue(-3.55), ys.getPixelForValue(c13LeftLevels[i]), { size: 15 }));
        c13RightLabels.forEach((s, i) => txt(ctx, s, xs.getPixelForValue(c13RightLabelAt[i]), ys.getPixelForValue(c13RightLevels[i]), { size: 15 }));
        rich(ctx, [{ t: 'δ', italic: true }, { t: '13', s: 'sup' }, { t: 'C' }, { t: 'carb', s: 'sub' }, { t: '(‰, PDB)' }], X(1213), P(21), 18);
        c13TickValues.forEach((v) => {
          const x = xs.getPixelForValue(v);
          txt(ctx, String(v), x, P(50), { size: 17, spacing: 0.5 });
          line(ctx, x, P(62), x, P(76), 1.5, '#333');
        });
        panelFrame(ctx, chart, W);
      },
    }],
  };
}

function Panel({ left, width, make }: { left: number; width: number; make: () => any }) {
  const ref = useRef<HTMLCanvasElement>(null);
  useEffect(() => {
    const chart = new Chart(ref.current as HTMLCanvasElement, make());
    return () => chart.destroy();
  }, []);
  return (
    <canvas
      ref={ref}
      width={width}
      height={CANVAS_H}
      style={{ position: 'absolute', left, top: PAGE, width, height: CANVAS_H, display: 'block' }}
    />
  );
}

export default function App() {
  return (
    <div style={{ position: 'fixed', left: 0, top: 0, width: 1333, height: 1560, background: '#fff', overflow: 'hidden' }}>
      <Panel left={8} width={610} make={stratConfig} />
      <Panel left={618} width={237} make={seaConfig} />
      <Panel left={855} width={237} make={srConfig} />
      <Panel left={1092} width={238} make={c13Config} />
    </div>
  );
}
